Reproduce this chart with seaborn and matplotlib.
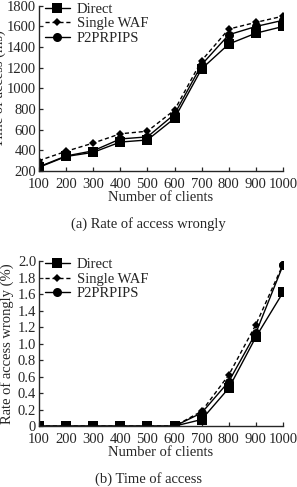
import pandas as pd
import numpy as np
import matplotlib
matplotlib.use("Agg")
import matplotlib.pyplot as plt
import seaborn as sns

clients = [100, 200, 300, 400, 500, 600, 700, 800, 900, 1000]
series = ["Direct", "Single WAF", "P2PRPIPS"]

time_direct = [235, 340, 380, 480, 500, 710, 1190, 1430, 1535, 1600]
time_waf = [300, 390, 470, 560, 585, 790, 1270, 1575, 1640, 1700]
time_p2p = [240, 345, 395, 510, 530, 750, 1230, 1520, 1600, 1660]

rate_direct = [0, 0, 0, 0, 0, 0, 0.08, 0.46, 1.08, 1.62]
rate_waf = [0, 0, 0, 0, 0, 0, 0.18, 0.62, 1.23, 1.96]
rate_p2p = [0, 0, 0, 0, 0, 0, 0.16, 0.54, 1.13, 1.95]

sns.set_style("ticks")
plt.rcParams['font.family'] = ['Liberation Serif', 'DejaVu Serif']
plt.rcParams['xtick.direction'] = 'in'
plt.rcParams['ytick.direction'] = 'in'
plt.rcParams['axes.linewidth'] = 1.0

FS = 10.5


def long_df(a, b, c):
    return pd.DataFrame({
        "clients": clients * 3,
        "value": a + b + c,
        "method": [series[0]] * 10 + [series[1]] * 10 + [series[2]] * 10,
    })


fig = plt.figure(figsize=(2.97, 4.87), dpi=100)
ax1 = fig.add_axes([0.131, 0.649, 0.822, 0.339])
ax2 = fig.add_axes([0.131, 0.125, 0.822, 0.339])

markers = {"Direct": "s", "Single WAF": "D", "P2PRPIPS": "o"}
dashes = {"Direct": "", "Single WAF": (3, 2), "P2PRPIPS": ""}
msize = {"Direct": 6.5, "Single WAF": 4.5, "P2PRPIPS": 6.5}

for ax, df in [(ax1, long_df(time_direct, time_waf, time_p2p)),
               (ax2, long_df(rate_direct, rate_waf, rate_p2p))]:
    sns.lineplot(data=df, x="clients", y="value", hue="method", style="method",
                 markers=markers, dashes=dashes, palette=["black"] * 3,
                 linewidth=1.0, markersize=6, markeredgewidth=0, ax=ax)
    for line, name in zip(ax.lines, series):
        line.set_markersize(msize[name])
    ax.set_xlim(100, 1000)
    ax.set_xticks(clients)
    ax.set_xlabel("Number of clients", fontsize=FS, labelpad=0)
    ax.tick_params(labelsize=FS, length=3, width=0.9)
    ax.tick_params(axis="x", pad=5)
    ax.tick_params(axis="y", pad=2)
    sns.despine(ax=ax)
    leg = ax.legend(loc="upper left", frameon=False, fontsize=FS,
                    handlelength=1.7, handletextpad=0.5, borderaxespad=0.0,
                    borderpad=0.0, labelspacing=0.1,
                    bbox_to_anchor=(0.025, 1.02))
    for h, name in zip(leg.legend_handles, series):
        h.set_markersize(msize[name])

ax1.set_ylim(200, 1800)
ax1.set_yticks(np.arange(200, 1801, 200))
ax1.set_ylabel("Time of access (ms)", fontsize=FS, labelpad=1)

ax2.set_ylim(0, 2.0)
ax2.set_yticks(np.arange(0, 2.01, 0.2))
ax2.set_yticklabels(["0"] + [f"{v:.1f}" for v in np.arange(0.2, 2.01, 0.2)])
ax2.set_ylabel("Rate of access wrongly (%)", fontsize=FS, labelpad=3)

fig.text(0.5, 1 - 224 / 487, "(a) Rate of access wrongly", ha="center",
         va="center", fontsize=FS)
fig.text(0.5, 1 - 479 / 487, "(b) Time of access", ha="center",
         va="center", fontsize=FS)

fig.savefig("out.png", dpi=100)
